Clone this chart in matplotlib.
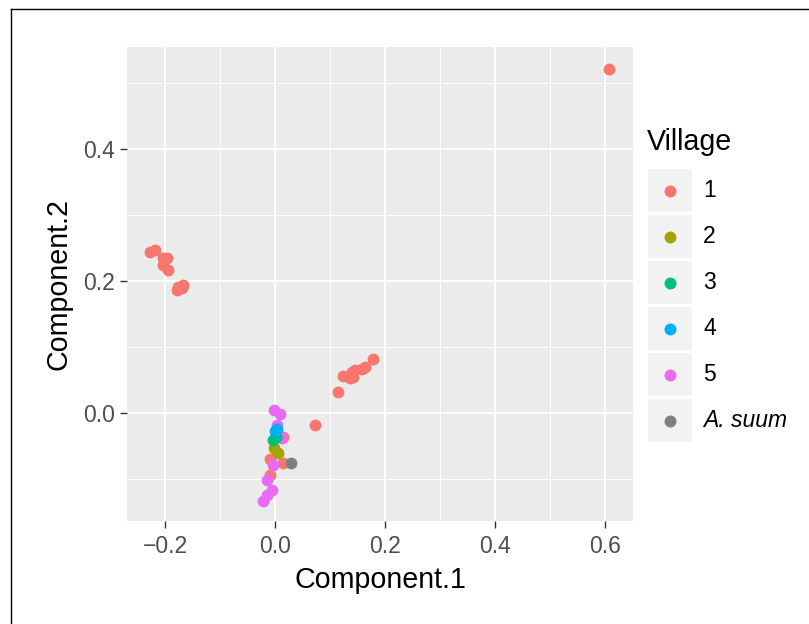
import matplotlib
matplotlib.use("Agg")
import matplotlib.pyplot as plt
from matplotlib.patches import Rectangle
from matplotlib.lines import Line2D

plt.rcParams["font.family"] = ["Liberation Sans", "DejaVu Sans"]

# --- data ---
v1_x = [0.607,
        -0.227, -0.218, -0.204, -0.196, -0.204, -0.195, -0.176, -0.169, -0.167, -0.178,
        0.178, 0.164, 0.158, 0.145, 0.140, 0.124, 0.136, 0.142, 0.115, 0.073,
        0.015, -0.009, 0.015, -0.009]
v1_y = [0.521,
        0.244, 0.247, 0.235, 0.235, 0.224, 0.217, 0.191, 0.189, 0.194, 0.186,
        0.082, 0.070, 0.067, 0.065, 0.062, 0.056, 0.053, 0.055, 0.032, -0.018,
        -0.036, -0.069, -0.076, -0.094]
v5_x = [-0.001, 0.010, 0.003, 0.012, -0.004, -0.015, -0.006, -0.015, -0.021]
v5_y = [0.0045, -0.002, -0.018, -0.038, -0.079, -0.102, -0.117, -0.124, -0.133]
v2_x = [-0.001, 0.005]
v2_y = [-0.053, -0.060]
v3_x = [0.002, -0.004]
v3_y = [-0.037, -0.041]
v4_x = [0.000, 0.004]
v4_y = [-0.028, -0.024]
suum_x = [0.030]
suum_y = [-0.076]

labels = ["1", "2", "3", "4", "5", "A. suum"]
colors = ["#F8766D", "#A3A500", "#00BF7D", "#00B0F6", "#E76BF3", "#7F7F7F"]
xticks = [-0.2, 0.0, 0.2, 0.4, 0.6]
yticks = [0.0, 0.2, 0.4]

W, H = 809, 624
fig = plt.figure(figsize=(W / 100, H / 100), dpi=100)
ax = fig.add_axes([127 / W, 1 - 521 / H, 506 / W, 474 / H])
ax.set_facecolor("#EBEBEB")
for s in ax.spines.values():
    s.set_visible(False)

S = 72
ax.scatter(v1_x, v1_y, s=S, color=colors[0], lw=0, zorder=3)
ax.scatter(v5_x, v5_y, s=S, color=colors[4], lw=0, zorder=3)
ax.scatter(v2_x, v2_y, s=S, color=colors[1], lw=0, zorder=3)
ax.scatter(v3_x, v3_y, s=S, color=colors[2], lw=0, zorder=3)
ax.scatter(v4_x, v4_y, s=S, color=colors[3], lw=0, zorder=3)
ax.scatter(suum_x, suum_y, s=S, color=colors[5], lw=0, zorder=3)

ax.set_xlim(-0.269, 0.651)
ax.set_ylim(-0.1636, 0.5545)
ax.set_xticks(xticks)
ax.set_xticklabels([f"{t:.1f}".replace("-", "\u2212") for t in xticks])
ax.set_yticks(yticks)
ax.set_yticklabels([f"{t:.1f}" for t in yticks])
ax.set_xticks([-0.1, 0.1, 0.3, 0.5], minor=True)
ax.set_yticks([-0.1, 0.1, 0.3, 0.5], minor=True)
ax.grid(True, which="major", color="white", lw=1.4)
ax.grid(True, which="minor", color="white", lw=0.7)
ax.set_axisbelow(True)
ax.tick_params(which="major", length=5, width=1.0, color="#333333",
               labelsize=16.5, labelcolor="#4D4D4D", pad=4)
ax.tick_params(axis="x", which="major", pad=5)
ax.tick_params(which="minor", length=0)
ax.set_xlabel("Component.1", fontsize=20.6, labelpad=6)
ax.set_ylabel("Component.2", fontsize=20.6, labelpad=7)

# --- legend drawn by hand (ggplot style keys) ---
def fx(x):
    return x / W

def fy(y):
    return 1 - y / H

fig.text(fx(647), fy(150), "Village", fontsize=20.6, va="baseline", ha="left")
for i, (lab, c) in enumerate(zip(labels, colors)):
    top = 169 + 46 * i
    fig.patches.append(Rectangle((fx(648), fy(top + 43)), 44 / W, 43 / H,
                                 transform=fig.transFigure, facecolor="#F2F2F2",
                                 edgecolor="none"))
    cy = top + 21.5
    fig.add_artist(Line2D([fx(670)], [fy(cy)], marker="o", ms=8.6, color=c,
                          mew=0, ls="none", transform=fig.transFigure))
    fig.text(fx(703), fy(cy), lab, fontsize=16.5, va="center", ha="left",
             style="italic" if lab == "A. suum" else "normal")

# partial frame (left and top edges)
fig.add_artist(Line2D([fx(11), fx(11)], [0, fy(9)], color="black", lw=1.0,
                      transform=fig.transFigure))
fig.add_artist(Line2D([fx(11), 1], [fy(9), fy(9)], color="black", lw=1.0,
                      transform=fig.transFigure))

fig.savefig("out.png", dpi=100)
